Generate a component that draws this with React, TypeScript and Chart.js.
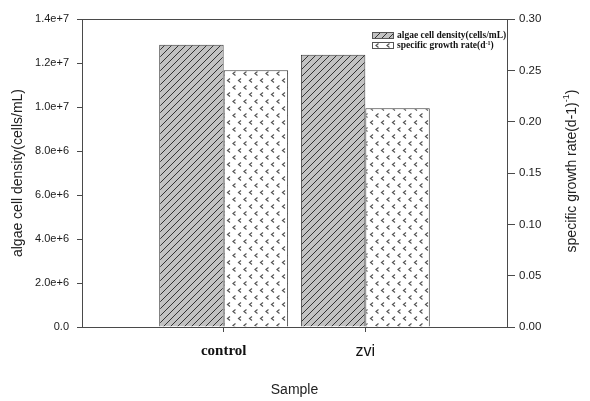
import React, { useEffect, useRef } from "react";
import { Chart, registerables } from "chart.js";

Chart.register(...registerables);

const categories = ["", "control", "zvi", ""];
const densityValues = [null, 1.283e7, 1.238e7, null];
const growthValues = [null, 0.25, 0.213, null];
const densityLabel = "algae cell density(cells/mL)";
const growthLegendMain = "specific growth rate(d";
const growthLegendSup = "-1";
const growthLegendTail = ")";
const leftTitle = "algae cell density(cells/mL)";
const rightTitleMain = "specific growth rate(d-1)";
const rightTitleSup = "-1";
const rightTitleTail = ")";
const xTitle = "Sample";

const AXIS = "#4a4a4a";
const TICK_TEXT = "#1a1a1a";

function makeHatch(): CanvasPattern | string {
  const s = 7;
  const c = document.createElement("canvas");
  c.width = s;
  c.height = s;
  const g = c.getContext("2d");
  if (!g) return "#bbb";
  g.fillStyle = "#c2c2c2";
  g.fillRect(0, 0, s, s);
  g.strokeStyle = "#333333";
  g.lineWidth = 1;
  g.beginPath();
  g.moveTo(-1, s + 1);
  g.lineTo(s + 1, -1);
  g.moveTo(-2, 1);
  g.lineTo(1, -2);
  g.moveTo(s - 1, s + 2);
  g.lineTo(s + 2, s - 1);
  g.stroke();
  return g.createPattern(c, "repeat") || "#bbb";
}

function makeDots(): CanvasPattern | string {
  const w = 11;
  const h = 14;
  const c = document.createElement("canvas");
  c.width = w;
  c.height = h;
  const g = c.getContext("2d");
  if (!g) return "#fff";
  g.fillStyle = "#ffffff";
  g.fillRect(0, 0, w, h);
  g.strokeStyle = "#555555";
  g.lineWidth = 1.2;
  const chevron = (x: number, y: number) => {
    g.beginPath();
    g.moveTo(x + 3, y);
    g.lineTo(x + 0.5, y + 2);
    g.lineTo(x + 3, y + 4);
    g.stroke();
  };
  chevron(1.5, 1.5);
  chevron(7, 8.5);
  return g.createPattern(c, "repeat") || "#fff";
}

export default function App() {
  const canvasRef = useRef<HTMLCanvasElement | null>(null);

  useEffect(() => {
    const canvas = canvasRef.current;
    if (!canvas) return;
    const hatch = makeHatch();
    const dots = makeDots();

    const framePlugin = {
      id: "frameAndLegend",
      afterDraw(chart: any) {
        const { ctx, chartArea } = chart;
        ctx.save();
        ctx.strokeStyle = AXIS;
        ctx.lineWidth = 1;
        ctx.beginPath();
        ctx.moveTo(chartArea.left, Math.round(chartArea.top) + 0.5);
        ctx.lineTo(chartArea.right, Math.round(chartArea.top) + 0.5);
        ctx.stroke();

        const boxW = 21;
        const boxH = 6;
        const bx = chartArea.right - 135;
        const by1 = chartArea.top + 13;
        const by2 = by1 + 10;
        const items = [
          { fill: hatch, y: by1 },
          { fill: dots, y: by2 },
        ];
        items.forEach((it) => {
          ctx.fillStyle = it.fill;
          ctx.fillRect(bx, it.y, boxW, boxH);
          ctx.strokeStyle = "#555";
          ctx.strokeRect(bx + 0.5, it.y + 0.5, boxW, boxH);
        });
        ctx.fillStyle = "#111";
        ctx.textBaseline = "middle";
        ctx.textAlign = "left";
        const lf = "bold 9.5px 'Liberation Serif', serif";
        ctx.font = lf;
        const tx = bx + 25;
        ctx.fillText(densityLabel, tx, by1 + boxH / 2 + 0.5);
        ctx.fillText(growthLegendMain, tx, by2 + boxH / 2 + 0.5);
        let w = ctx.measureText(growthLegendMain).width;
        ctx.font = "bold 6px 'Liberation Serif', serif";
        ctx.fillText(growthLegendSup, tx + w, by2 + boxH / 2 - 2);
        w += ctx.measureText(growthLegendSup).width;
        ctx.font = lf;
        ctx.fillText(growthLegendTail, tx + w, by2 + boxH / 2 + 0.5);

        const y1 = chart.scales.y1;
        const cx = y1.right - 18;
        const cy = (chartArea.top + chartArea.bottom) / 2 - 2;
        ctx.translate(cx, cy);
        ctx.rotate(-Math.PI / 2);
        ctx.fillStyle = "#222";
        ctx.textBaseline = "middle";
        const mainFont = "14px 'Liberation Sans', Arial, sans-serif";
        const supFont = "9px 'Liberation Sans', Arial, sans-serif";
        ctx.font = mainFont;
        const w1 = ctx.measureText(rightTitleMain).width;
        const wt = ctx.measureText(rightTitleTail).width;
        ctx.font = supFont;
        const ws = ctx.measureText(rightTitleSup).width;
        const total = w1 + ws + wt;
        let x0 = -total / 2;
        ctx.font = mainFont;
        ctx.fillText(rightTitleMain, x0, 0);
        x0 += w1;
        ctx.font = supFont;
        ctx.fillText(rightTitleSup, x0, -5);
        x0 += ws;
        ctx.font = mainFont;
        ctx.fillText(rightTitleTail, x0, 0);
        ctx.restore();
      },
    };

    const chart = new Chart(canvas, {
      type: "bar",
      data: {
        labels: categories,
        datasets: [
          {
            label: densityLabel,
            data: densityValues,
            yAxisID: "y",
            backgroundColor: hatch as any,
            borderColor: "#3a3a3a",
            borderWidth: 1,
            categoryPercentage: 0.91,
            barPercentage: 1,
          },
          {
            label: "specific growth rate",
            data: growthValues,
            yAxisID: "y1",
            backgroundColor: dots as any,
            borderColor: "#3a3a3a",
            borderWidth: 1,
            categoryPercentage: 0.91,
            barPercentage: 1,
          },
        ],
      },
      options: {
        animation: false,
        responsive: true,
        maintainAspectRatio: false,
        layout: { padding: { top: 19, left: 0, right: 0, bottom: 0 } },
        plugins: {
          legend: { display: false },
          tooltip: { enabled: false },
        },
        scales: {
          x: {
            type: "category",
            offset: false,
            afterFit: (s: any) => {
              s.height = 74;
            },
            grid: {
              offset: false,
              drawOnChartArea: false,
              drawTicks: true,
              tickLength: 5,
              tickColor: (ctx: any) =>
                ctx.index === 1 || ctx.index === 2 ? AXIS : "rgba(0,0,0,0)",
            },
            border: { display: true, color: AXIS, width: 1 },
            ticks: {
              color: "#111",
              padding: 10,
              autoSkip: false,
              maxRotation: 0,
              font: (ctx: any) =>
                ctx.index === 1
                  ? { family: "'Liberation Serif', serif", size: 15, weight: "bold" }
                  : { family: "'Liberation Sans', Arial, sans-serif", size: 16 },
            },
            title: {
              display: true,
              text: xTitle,
              color: "#222",
              font: { family: "'Liberation Sans', Arial, sans-serif", size: 14 },
              padding: { top: 0, bottom: 2 },
            },
          },
          y: {
            type: "linear",
            position: "left",
            min: 0,
            max: 1.4e7,
            afterFit: (s: any) => {
              s.width = 82;
            },
            ticks: {
              stepSize: 2e6,
              padding: 8,
              color: TICK_TEXT,
              font: { family: "'Liberation Sans', Arial, sans-serif", size: 11 },
              callback: (v: any) => (Number(v) === 0 ? "0.0" : Number(v).toExponential(1)),
            },
            grid: {
              drawOnChartArea: false,
              drawTicks: true,
              tickLength: 5,
              tickColor: AXIS,
            },
            border: { display: true, color: AXIS, width: 1 },
            title: {
              display: true,
              text: leftTitle,
              color: "#222",
              font: { family: "'Liberation Sans', Arial, sans-serif", size: 14 },
              padding: { top: 10, bottom: 0 },
            },
          },
          y1: {
            type: "linear",
            position: "right",
            min: 0,
            max: 0.3,
            afterFit: (s: any) => {
              s.width = 83;
            },
            ticks: {
              stepSize: 0.05,
              padding: 4,
              color: TICK_TEXT,
              font: { family: "'Liberation Sans', Arial, sans-serif", size: 11.5 },
              callback: (v: any) => Number(v).toFixed(2),
            },
            grid: {
              drawOnChartArea: false,
              drawTicks: true,
              tickLength: 8,
              tickColor: AXIS,
            },
            border: { display: true, color: AXIS, width: 1 },
          },
        },
      } as any,
      plugins: [framePlugin],
    });

    return () => {
      chart.destroy();
    };
  }, []);

  return (
    <div
      style={{
        position: "fixed",
        left: 0,
        top: 0,
        width: 590,
        height: 401,
        background: "#ffffff",
      }}
    >
      <canvas ref={canvasRef} />
    </div>
  );
}
